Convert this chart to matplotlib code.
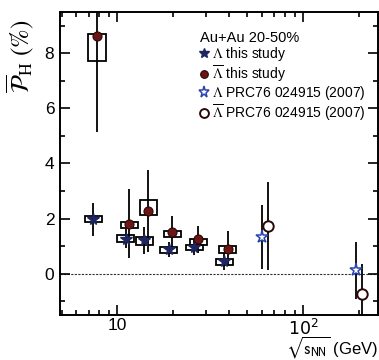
import matplotlib.pyplot as plt
from matplotlib.patches import Rectangle
from matplotlib.ticker import FixedLocator, FixedFormatter, MultipleLocator, LogLocator, NullFormatter

plt.rcParams['font.family'] = ['Liberation Sans', 'DejaVu Sans']
plt.rcParams['mathtext.fontset'] = 'stix'

# --- this study: Au+Au 20-50%, global polarization vs beam energy ---
energy = [7.7, 11.5, 14.5, 19.6, 27.0, 39.0]

lam = [1.97, 1.27, 1.21, 0.88, 0.97, 0.45]
lam_stat = [0.60, 0.35, 0.48, 0.28, 0.28, 0.30]
lam_sys_lo = [0.11, 0.12, 0.18, 0.12, 0.12, 0.15]
lam_sys_hi = [0.13, 0.12, 0.12, 0.10, 0.08, 0.10]

lambar = [8.63, 1.82, 2.28, 1.51, 1.24, 0.91]
lambar_stat = [3.50, 1.25, 1.50, 0.60, 0.48, 0.64]
lambar_sys_lo = [0.93, 0.18, 0.16, 0.18, 0.20, 0.16]
lambar_sys_hi = [0.06, 0.05, 0.41, 0.03, 0.03, 0.09]

# --- PRC76 024915 (2007) ---
prc_energy = [62.4, 200.0]
prc_lam = [1.33, 0.12]
prc_lam_stat = [1.17, 1.03]
prc_lambar = [1.72, -0.75]
prc_lambar_stat = [1.60, 1.10]

x_ticks = [10, 100]
x_ticklabels = ['10', r'$10^2$']

# small horizontal offsets so Lambda / anti-Lambda do not overlap
shift_lam = 0.962
shift_lambar = 1.008
shift_prc_lam = 0.965
shift_prc_lambar = 1.035
box_half = 10 ** 0.046

navy = '#1d2660'
darkred = '#6b1515'
blue = '#2a45b0'


def sys_boxes(ax, xs, ys, lo, hi):
    for x, y, l, h in zip(xs, ys, lo, hi):
        ax.add_patch(Rectangle((x / box_half, y - l), x * box_half - x / box_half, l + h,
                               fill=False, ec='black', lw=1.3, zorder=2))


fig = plt.figure(figsize=(3.79, 3.6), dpi=100)
ax = fig.add_axes([0.158, 0.125, 0.839, 0.842])
ax.set_xscale('log')

x_lam = [e * shift_lam for e in energy]
x_lambar = [e * shift_lambar for e in energy]
x_prc_lam = [e * shift_prc_lam for e in prc_energy]
x_prc_lambar = [e * shift_prc_lambar for e in prc_energy]

ax.axhline(0, color='#333333', lw=0.8, ls=(0, (2, 1.2)), zorder=1)

sys_boxes(ax, x_lam, lam, lam_sys_lo, lam_sys_hi)
sys_boxes(ax, x_lambar, lambar, lambar_sys_lo, lambar_sys_hi)

ekw = dict(fmt='none', ecolor='black', elinewidth=1.3, capsize=0, zorder=3)
ax.errorbar(x_lam, lam, yerr=lam_stat, **ekw)
ax.errorbar(x_lambar, lambar, yerr=lambar_stat, **ekw)
ax.errorbar(x_prc_lam, prc_lam, yerr=prc_lam_stat, **ekw)
ax.errorbar(x_prc_lambar, prc_lambar, yerr=prc_lambar_stat, **ekw)

h1, = ax.plot(x_lam, lam, ls='none', marker='*', ms=8.5, mfc=navy, mec=navy, zorder=4,
              label=r'$\Lambda$ this study')
h2, = ax.plot(x_lambar, lambar, ls='none', marker='o', ms=6.5, mfc=darkred, mec='#2a0808',
              mew=0.8, zorder=4, label=r'$\overline{\Lambda}$ this study')
h3, = ax.plot(x_prc_lam, prc_lam, ls='none', marker='*', ms=9.5, mfc='white', mec=blue,
              mew=1.1, zorder=4, label=r'$\Lambda$ PRC76 024915 (2007)')
h4, = ax.plot(x_prc_lambar, prc_lambar, ls='none', marker='o', ms=7.5, mfc='white',
              mec='#2a0808', mew=1.4, zorder=4, label=r'$\overline{\Lambda}$ PRC76 024915 (2007)')

ax.set_xlim(4.9, 252)
ax.set_ylim(-1.5, 9.5)

ax.xaxis.set_major_locator(FixedLocator(x_ticks))
ax.xaxis.set_major_formatter(FixedFormatter(x_ticklabels))
ax.xaxis.set_minor_locator(LogLocator(base=10, subs=range(2, 10)))
ax.xaxis.set_minor_formatter(NullFormatter())
ax.yaxis.set_major_locator(MultipleLocator(2))
ax.yaxis.set_minor_locator(MultipleLocator(1))

ax.tick_params(which='both', direction='in', top=True, right=True, width=1.2)
ax.tick_params(which='major', length=7, labelsize=12.5, pad=4)
ax.tick_params(axis='x', which='major', pad=2)
ax.tick_params(which='minor', length=3.5)
for s in ax.spines.values():
    s.set_linewidth(1.4)
for t in ax.get_xticklabels():
    t.set_math_fontfamily('dejavusans')

ax.set_xlabel(r'$\sqrt{\mathrm{s}_{\mathrm{NN}}}$ (GeV)', fontsize=12, loc='right',
              labelpad=-3, math_fontfamily='stixsans')
ax.set_ylabel(r'$\overline{\mathcal{P}}_{\mathrm{H}}$ (%)', fontsize=18, family='STIXGeneral',
              loc='top')
ax.yaxis.set_label_coords(-0.075, 0.975)

leg = ax.legend(handles=[h1, h2, h3, h4], title='Au+Au 20-50%', loc='upper left',
                bbox_to_anchor=(0.44, 0.937), frameon=False, fontsize=10,
                title_fontsize=10.5, handlelength=0.6, handletextpad=0.3,
                labelspacing=0.02, borderpad=0, borderaxespad=0, alignment='left',
                markerscale=0.85)

fig.savefig('out.png', dpi=100)
